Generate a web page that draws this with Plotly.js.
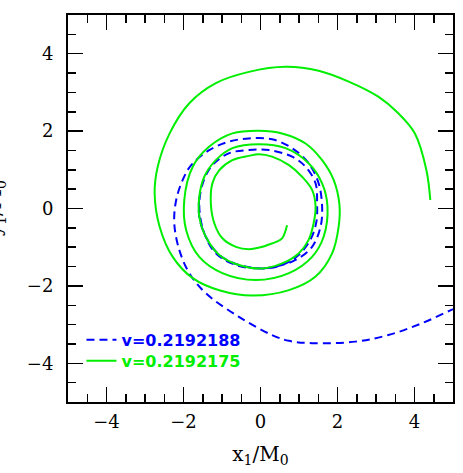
<!DOCTYPE html>
<html>
<head>
<meta charset="utf-8">
<script src="https://cdn.plot.ly/plotly-3.0.1.min.js"></script>
<style>
  html, body { margin: 0; padding: 0; background: #fff; }
  #plot { width: 463px; height: 473px; }
</style>
</head>
<body>
<div id="plot"></div>
<script>
// orbit of puncture 1 (counter-clockwise, outer start -> inner end)
const greenX = [4.41, 4.31, 4.01, 3.58, 3.06, 2.29, 1.51, 0.65, -0.30, -1.16, -1.85, -2.36, -2.67, -2.75, -2.62, -2.28, -1.76, -1.05, -0.21, 0.74, 1.43, 1.86, 2.03, 2.05,
  1.90, 1.60, 1.17, 0.56, -0.04, -0.73, -1.33, -1.76, -1.98, -1.93, -1.59, -0.99, -0.12, 0.74, 1.34, 1.64, 1.74,
  1.60, 1.25, 0.65, -0.04, -0.73, -1.16, -1.46, -1.59, -1.59, -1.42, -1.07, -0.56, 0.05, 0.56, 0.99, 1.25, 1.38, 1.43,
  1.34, 1.08, 0.74, 0.30, -0.04, -0.30, -0.73, -1.07, -1.25, -1.29, -1.20, -0.99, -0.64, -0.30, 0.05, 0.22, 0.39, 0.56, 0.69];
const greenY = [0.22, 0.99, 1.94, 2.46, 2.89, 3.28, 3.56, 3.66, 3.53, 3.24, 2.72, 1.94, 1.08, 0.40, -0.47, -1.25, -1.80, -2.12, -2.25, -2.11, -1.76, -1.16, -0.47, 0.10,
  0.74, 1.25, 1.68, 1.94, 2.01, 1.94, 1.60, 1.08, 0.22, -0.56, -1.25, -1.67, -1.85, -1.67, -1.25, -0.73, 0.05,
  0.65, 1.17, 1.56, 1.66, 1.56, 1.25, 0.82, 0.30, -0.21, -0.73, -1.20, -1.46, -1.55, -1.42, -1.16, -0.81, -0.38, 0.05,
  0.48, 0.82, 1.12, 1.34, 1.40, 1.36, 1.25, 0.99, 0.65, 0.13, -0.38, -0.77, -0.99, -1.05, -0.99, -0.93, -0.87, -0.77, -0.43];

// second run: whirls twice more and escapes to the lower right
const blueX = [-1.59, -1.59, -1.42, -1.07, -0.56, 0.05, 0.56, 0.99, 1.30, 1.45, 1.47, 1.43, 1.17, 0.82, 0.22, -0.30, -0.81, -1.25, -1.50, -1.59,
  -1.46, -1.16, -0.64, -0.04, 0.39, 0.91, 1.34, 1.56, 1.60, 1.51, 1.25, 0.82, 0.30, -0.30, -0.81, -1.33, -1.80, -2.02, -2.19,
  -2.24, -2.11, -1.85, -1.42, -0.56, 0.30, 0.74, 1.34, 2.46, 3.32, 4.18, 4.96, 5.20];
const blueY = [0.30, -0.21, -0.73, -1.20, -1.46, -1.55, -1.46, -1.20, -0.80, -0.35, 0.13, 0.65, 1.08, 1.34, 1.51, 1.51, 1.43, 1.12, 0.65, 0.05,
  -0.64, -1.16, -1.46, -1.55, -1.50, -1.33, -0.99, -0.47, 0.05, 0.65, 1.17, 1.56, 1.79, 1.81, 1.73, 1.51, 1.12, 0.74, 0.22,
  -0.38, -1.07, -1.67, -2.19, -2.80, -3.27, -3.42, -3.48, -3.44, -3.27, -2.97, -2.62, -2.52];

const blueName = "v=0.2192188";
const greenName = "v=0.2192175";

const traces = [
  {
    x: blueX, y: blueY, mode: 'lines', name: blueName, legend: 'legend',
    line: { color: '#0000ff', width: 2, dash: '8px,5px', shape: 'spline', smoothing: 1 },
  },
  {
    x: greenX, y: greenY, mode: 'lines', name: greenName, legend: 'legend2',
    line: { color: '#00ee00', width: 2, shape: 'spline', smoothing: 1 },
  },
];

const axisStyle = {
  range: [-5, 5],
  dtick: 2,
  tick0: 0,
  ticks: 'inside',
  ticklen: 15,
  tickwidth: 1.5,
  tickcolor: '#000',
  showline: true,
  linewidth: 2,
  linecolor: '#000',
  mirror: 'allticks',
  showgrid: false,
  zeroline: false,
  tickfont: { family: 'DejaVu Serif', size: 18, color: '#000' },
  minor: { dtick: 0.5, ticks: 'inside', ticklen: 8, tickwidth: 1.5, tickcolor: '#000' },
};

const legendBase = {
  x: 0.035, xanchor: 'left', yanchor: 'middle',
  bgcolor: 'rgba(0,0,0,0)', borderwidth: 0,
  itemwidth: 30,
};

const titleFont = { family: 'DejaVu Serif', size: 20, color: '#000' };

const layout = {
  width: 463,
  height: 473,
  margin: { t: 15, r: 10, b: 71, l: 68 },
  paper_bgcolor: '#fff',
  plot_bgcolor: '#fff',
  xaxis: Object.assign({}, axisStyle, {
    ticklabelstandoff: 2,
    title: { text: 'x<sub>1</sub>/M<sub>0</sub>', font: titleFont, standoff: 16 },
  }),
  yaxis: Object.assign({}, axisStyle, {
    ticklabelstandoff: 9,
  }),
  // y title sits mostly outside the page on the left, as in the original
  annotations: [{
    text: 'y<sub>1</sub>/M<sub>0</sub>',
    font: titleFont,
    textangle: -90,
    xref: 'paper', yref: 'paper',
    x: -0.19, y: 0.5,
    xanchor: 'center', yanchor: 'middle',
    showarrow: false,
  }],
  legend: Object.assign({}, legendBase, {
    y: (401 - 339) / 386,
    font: { family: 'DejaVu Sans', size: 16, color: '#0000ff', weight: 'bold' },
  }),
  legend2: Object.assign({}, legendBase, {
    y: (401 - 360) / 386,
    font: { family: 'DejaVu Sans', size: 16, color: '#00ee00', weight: 'bold' },
  }),
  showlegend: true,
};

Plotly.newPlot('plot', traces, layout, { staticPlot: true });
</script>
</body>
</html>
